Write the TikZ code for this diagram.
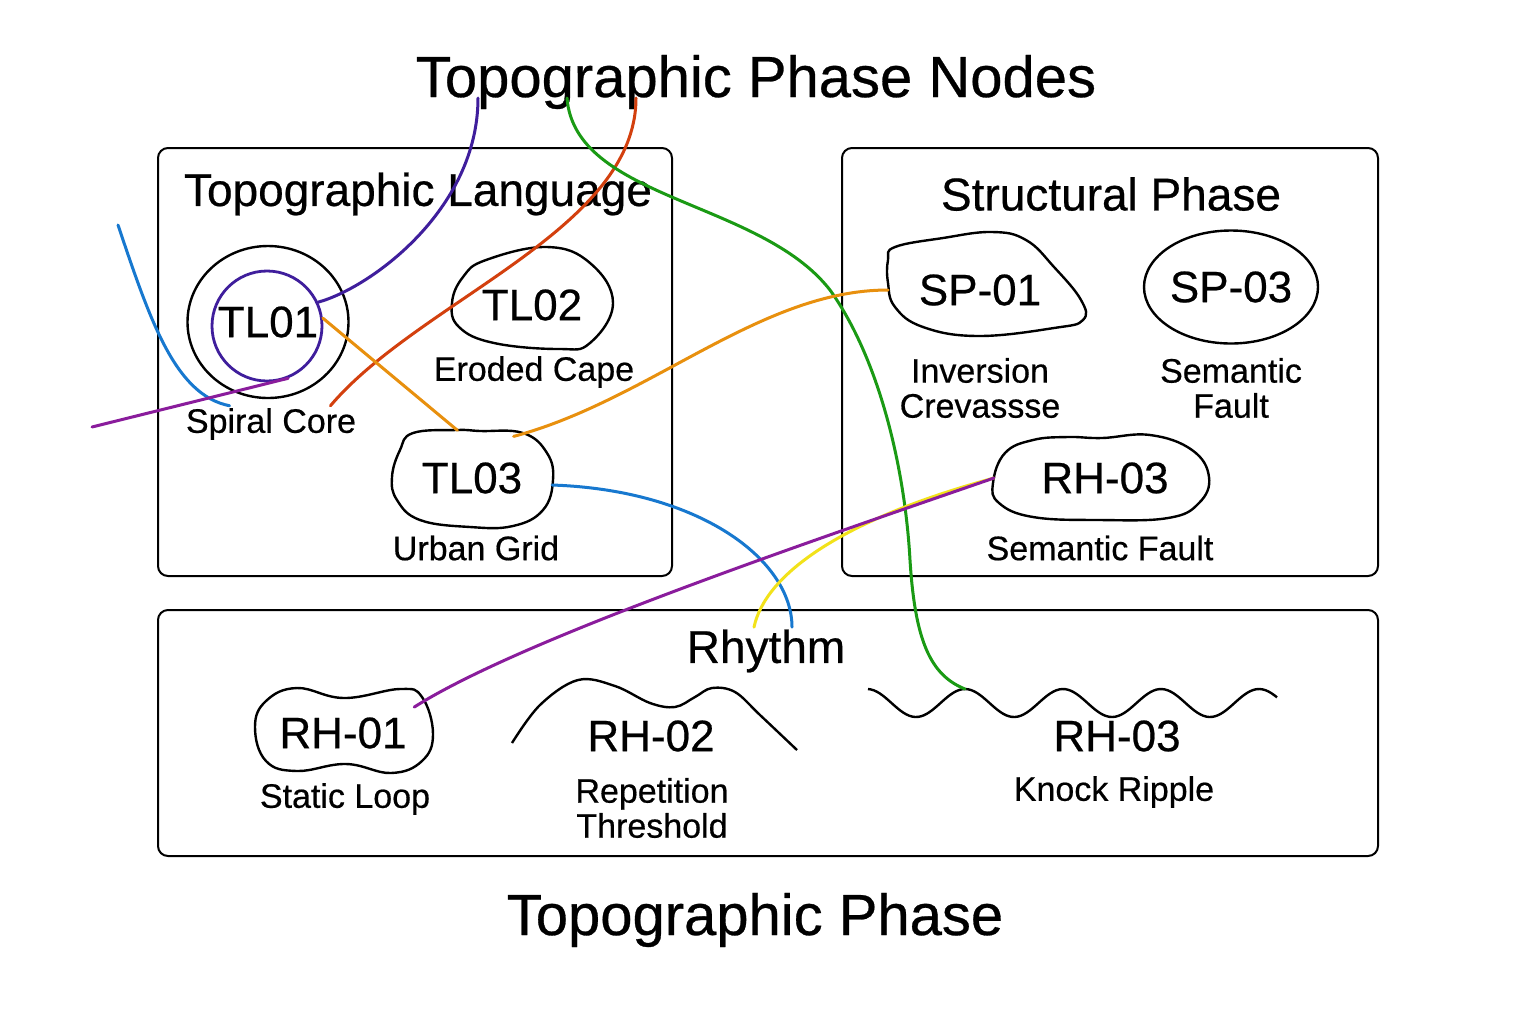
\documentclass[tikz,border=0pt]{standalone}
\usepackage{fontspec}
\setmainfont{Liberation Sans}[FakeBold=0.5]
\usetikzlibrary{positioning,shapes.geometric,calc}
\definecolor{tpindigo}{HTML}{3F1E9C}
\definecolor{tpplum}{HTML}{8A1C9C}
\definecolor{tprust}{HTML}{D3400E}
\definecolor{tporange}{HTML}{E8900E}
\definecolor{tpgreen}{HTML}{1A9A14}
\definecolor{tpblue}{HTML}{1778CF}
\definecolor{tpyellow}{HTML}{F2E21A}

\begin{document}
\begin{tikzpicture}[x=0.5pt,y=-0.5pt,
  panel/.style={draw,line width=1pt,rounded corners=5pt,inner sep=0pt,outer sep=0pt},
  heading/.style={font=\fontsize{29}{32}\selectfont,inner sep=1pt},
  boxtitle/.style={font=\fontsize{23}{26}\selectfont,inner sep=1pt},
  tag/.style={font=\fontsize{22}{24}\selectfont,inner sep=0pt,outer sep=0pt},
  sub/.style={font=\fontsize{17}{17.5}\selectfont,align=center,inner sep=1pt},
  outline/.style={line width=1.2pt,line join=round},
  wire/.style={line width=1.5pt,line cap=round}]
\fill[white] (0,0) rectangle (1536,1024);
\useasboundingbox (0,0) rectangle (1536,1024);

% frames
\node[panel,minimum width=257pt,minimum height=214pt] (langbox) at (415,362) {};
\node[panel,minimum width=268pt,minimum height=214pt] (structbox) at (1110,362) {};
\node[panel,minimum width=610pt,minimum height=123pt] (rhythmbox) at (768,733) {};

\node[heading] (title) at (756,82) {Topographic Phase Nodes};
\node[heading] (footer) at (755,920) {Topographic Phase};
\node[boxtitle] (langtitle) at (418,194) {Topographic Language};
\node[boxtitle] (structtitle) at (1111,194) {Structural Phase};
\node[boxtitle] (rhythm) at (766,651) {Rhythm};

% topographic language
\node[tag,ellipse,draw,outline,minimum width=80.5pt,minimum height=76pt] (tl01) at (268,322) {TL01};
\node[circle,draw=tpindigo,line width=1.4pt,minimum size=55pt] (tl01core) at (267,326) {};
\node[sub] (spiral) at (271,424) {Spiral Core};

\node[tag,ellipse,minimum width=80pt,minimum height=50pt] (tl02) at (532,305) {TL02};
\draw[outline,shift={(tl02.center)}] plot[smooth cycle,tension=0.7] coordinates
  {(-46,-45) (15,-58) (58,-42) (81,-2) (58,38) (27,44) (-38,38) (-73,22) (-80,-2) (-69,-28)};
\node[sub] (eroded) at (534,372) {Eroded Cape};

\node[tag,ellipse,minimum width=81pt,minimum height=48.5pt] (tl03) at (472,478) {TL03};
\draw[outline,shift={(tl03.center)}] plot[smooth cycle,tension=0.7] coordinates
  {(-59,-45) (-15,-48) (8,-47) (51,-45) (75,-25) (81,2) (71,32) (41,48) (-2,49) (-52,42) (-75,22) (-80,-1) (-72,-28)};
\node[sub] (urban) at (476,548) {Urban Grid};

% structural phase
\node[tag,ellipse,minimum width=92pt,minimum height=52pt] (sp01) at (980,290) {SP-01};
\draw[outline,shift={(sp01.center)}] plot[smooth cycle,tension=0.7] coordinates
  {(-85,-43) (-37,-52) (12,-58) (46,-50) (74,-23) (101,10) (103,30) (74,38) (-2,46) (-57,37) (-85,17) (-92,-7) (-92,-30)};
\node[sub] (inversion) at (980,388) {Inversion\\Crevassse};

\node[tag,ellipse,draw,outline,minimum width=87pt,minimum height=56.5pt] (sp03) at (1231,287) {SP-03};
\node[sub] (semantic) at (1231,388) {Semantic\\Fault};

\node[tag,ellipse,minimum width=111pt,minimum height=42pt] (rh03b) at (1105,478) {RH-03};
\draw[outline,shift={(rh03b.center)}] plot[smooth cycle,tension=0.7] coordinates
  {(-112,5) (-100,-25) (-72,-38) (-37,-41) (-3,-40) (45,-43) (87,-28) (104,-1) (94,25) (63,40) (-6,42) (-72,39) (-106,25)};
\node[sub] (semfault) at (1100,548) {Semantic Fault};

% rhythm
\node[tag,ellipse,minimum width=89pt,minimum height=42.5pt] (rh01) at (343,733) {RH-01};
\draw[outline,shift={(rh01.center)}] plot[smooth cycle,tension=0.7] coordinates
  {(-88,-6) (-77,-32) (-46,-45) (1,-35) (57,-44) (79,-36) (90,1) (79,28) (48,40) (3,31) (-46,38) (-77,28)};
\node[sub] (static) at (345,799) {Static Loop};

\node[tag] (rh02) at (651,736) {RH-02};
\draw[outline,shift={(rh02.center)}] plot[smooth,tension=0.6] coordinates
  {(-139,7) (-111,-31) (-73,-56) (-36,-50) (-1,-33) (24,-29) (44,-39) (61,-48) (84,-44) (109,-21) (146,14)};
\node[sub] (repetition) at (652,808) {Repetition\\Threshold};

\node[tag] (rh03) at (1117,736) {RH-03};
\draw[outline,shift={(rh03.center)}] plot[domain=-249:160,samples=140,smooth]
  (\x,{-33-14*cos(3.6735*(\x+152))});
\node[sub] (knock) at (1114,792) {Knock Ripple};

% loose ends
\coordinate (hookA) at (478,98);
\coordinate (hookB) at (567,98);
\coordinate (hookC) at (636,98);
\coordinate (bluetail) at (118,225);
\coordinate (purpletail) at (92,427);
\coordinate (ripple) at (965,689);

% connectors
\draw[wire,tpindigo] (tl01core.25) .. controls (370,288) and (478,210) .. (hookA);
\draw[wire,tprust] ([xshift=-14pt]spiral.north east) .. controls (420,300) and (636,230) .. (hookC);
\draw[wire,tpgreen] (hookB) .. controls (575,200) and (760,200) .. (830,290)
  .. controls (880,360) and (905,470) .. (910,560) .. controls (915,640) and (930,675) .. (ripple);
\draw[wire,tpblue] (bluetail) .. controls (150,320) and (175,395) .. ([xshift=23pt]spiral.north west);
\draw[wire,tpplum] (purpletail) -- (tl01core.-68);
\draw[wire,tporange] (tl01core.8) -- (tl03.107);
\draw[wire,tporange] (tl03.45) .. controls (650,400) and (760,290) .. (sp01.west);
\draw[wire,tpblue] (tl03.-5) .. controls (700,490) and (792,560) .. ([xshift=13pt]rhythm.north);
\draw[wire,tpyellow] ([xshift=-6pt]rhythm.north) .. controls (765,575) and (840,520) .. (rh03b.west);
\draw[wire,tpplum] (rh01.20) .. controls (520,640) and (800,545) .. (rh03b.west);
\end{tikzpicture}
\end{document}
